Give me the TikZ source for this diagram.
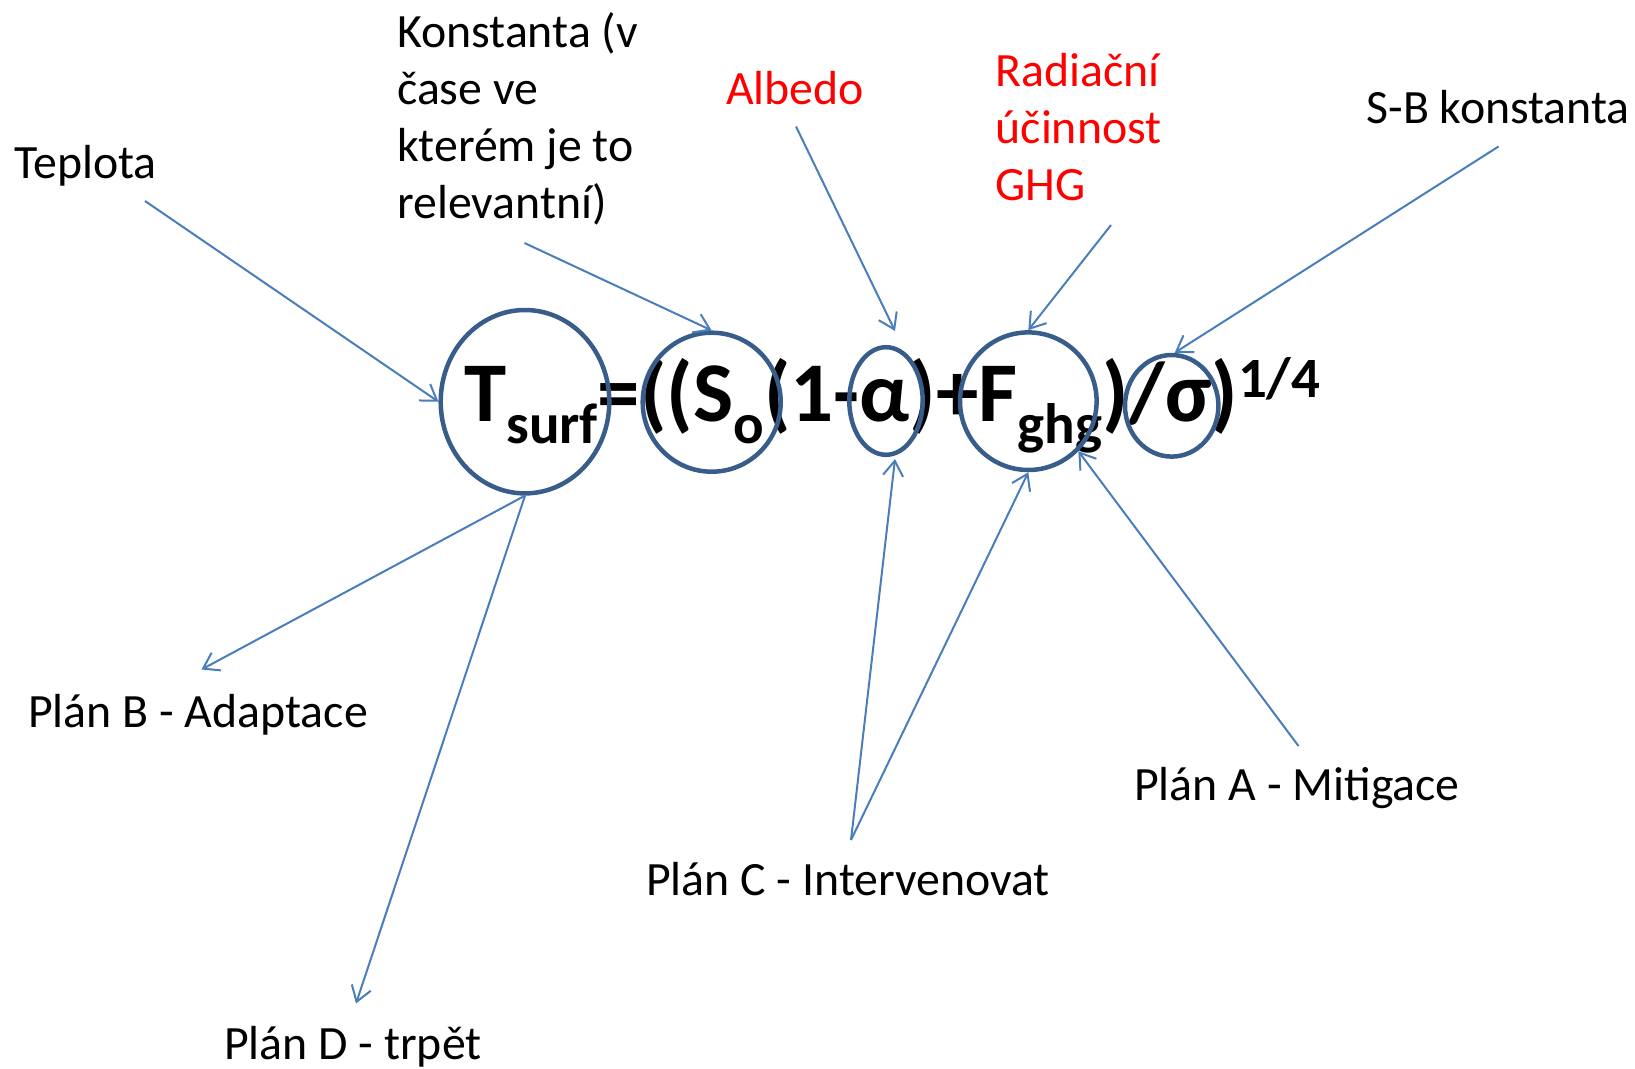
\documentclass[tikz,border=0pt]{standalone}
\usepackage{fontspec}
\setmainfont{Carlito}
\usetikzlibrary{shapes.geometric,arrows.meta}
\definecolor{ringblue}{HTML}{385D8A}
\definecolor{arrblue}{HTML}{4A7EBB}
\newcommand{\lo}[1]{\raisebox{-22pt}{\fontsize{57}{60}\selectfont #1}}
\newcommand{\hi}[1]{\raisebox{24pt}{\fontsize{57}{60}\selectfont #1}}
\tikzset{
  ring/.style={ellipse,draw=ringblue,line width=4.5pt,inner sep=0pt},
  arr/.style={arrblue,line width=2pt,-{Straight Barb[length=15pt,width=20pt]}},
  lbl/.style={anchor=base west,inner sep=0pt,align=left,font=\fontsize{47.8}{57}\selectfont},
}
\begin{document}
\begin{tikzpicture}[x=1pt,y=-1pt]
\useasboundingbox(0,0)rectangle(1635,1068);
% labels (base of the last line)
\node[lbl](tep)at(14,178.5){Teplota};
\node[lbl](kon)at(397,218){Konstanta (v\\čase ve\\kterém je to\\relevantní)};
\node[lbl,red](alb)at(726,104.5){Albedo};
\node[lbl,red](rad)at(995.5,200.5){Radiační\\účinnost\\GHG};
\node[lbl](sb)at(1366.5,123){S-B konstanta};
\node[lbl](pb)at(28,727){Plán B - Adaptace};
\node[lbl](pd)at(224,1059.5){Plán D - trpět};
\node[lbl](pc)at(646,895){Plán C - Intervenovat};
\node[lbl](pa)at(1134,800){Plán A - Mitigace};
% formula
\node[anchor=base west,inner sep=0pt,font=\bfseries\fontsize{85}{100}\selectfont](eq)at(464,421)
  {T\lo{surf}=((S\lo{o}(1-α)+F\lo{ghg})/σ)\hi{1/4}};
\node[ring,minimum width=168.6,minimum height=183.4](ts)at(525,401.7){};
\node[ring,minimum width=138,minimum height=139](so)at(711.7,402.2){};
\node[ring,minimum width=73.4,minimum height=107.6](al)at(886,401){};
\node[ring,minimum width=136.6,minimum height=137.6](fg)at(1028.3,401.2){};
\node[ring,minimum width=93.4,minimum height=101.6](sg)at(1171.7,405.8){};
% arrows
\coordinate(tepT)at(145,201);\coordinate(konT)at(524.5,243);
\coordinate(albT)at(796,126.5);\coordinate(radT)at(1111,225);
\coordinate(sbT)at(1498.5,146.5);\coordinate(pbH)at(201.5,669.5);
\coordinate(pdH)at(356,1003.5);\coordinate(pcT)at(851,840);
\coordinate(paT)at(1298.5,746);
\draw[arr](tepT)--(ts.west);
\draw[arr](konT)--(so.north);
\draw[arr](albT)--([xshift=9pt,yshift=14pt]al.north);
\draw[arr](radT)--(fg.north);
\draw[arr](sbT)--([xshift=3pt]sg.north);
\draw[arr](ts.south)--(pbH);
\draw[arr](ts.south)--(pdH);
\draw[arr](pcT)--([xshift=9pt,yshift=-2pt]al.south);
\draw[arr](pcT)--(fg.south);
\draw[arr](paT)--(fg.-45);
\end{tikzpicture}
\end{document}
